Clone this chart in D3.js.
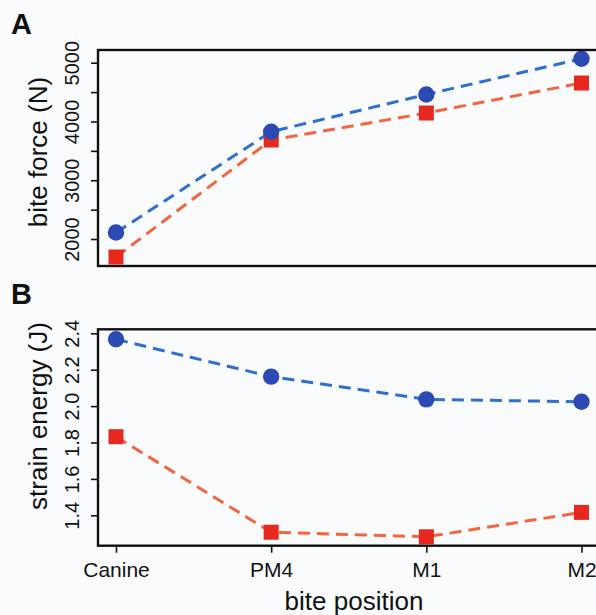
<!DOCTYPE html>
<html>
<head>
<meta charset="utf-8">
<script src="https://cdn.jsdelivr.net/npm/d3@7"></script>
<style>
  html, body { margin: 0; padding: 0; background: #fafbfd; overflow: hidden; }
  svg { display: block; font-family: "Liberation Sans", Arial, sans-serif; }
</style>
</head>
<body>
<div id="chart"></div>
<script>
// bite positions along the jaw
var categories = ["Canine", "PM4", "M1", "M2"];

// panel A: bite force (N)
var forceBlue = [2110, 3826, 4460, 5066];
var forceRed  = [1694, 3685, 4144, 4654];
var forceTicks = [2000, 2500, 3000, 3500, 4000, 4500, 5000];
var forceLabels = [2000, 3000, 4000, 5000];

// panel B: strain energy (J)
var energyBlue = [2.367, 2.162, 2.037, 2.024];
var energyRed  = [1.832, 1.307, 1.282, 1.416];
var energyTicks = [1.4, 1.6, 1.8, 2.0, 2.2, 2.4];

var width = 596, height = 615;
var blueLine = "#2f6fd0", blueMark = "#2c49b4";
var redLine = "#f2653e", redMark = "#e7281f";

var svg = d3.select("#chart").append("svg")
  .attr("width", width)
  .attr("height", height);

svg.append("rect").attr("width", width).attr("height", height).attr("fill", "#fafbfd");

var x = d3.scaleLinear().domain([0, 3]).range([116, 581.5]);
var boxLeft = 98, boxRight = x(3.116);

function drawPanel(opt){
  var y = d3.scaleLinear().domain(opt.domain).range([opt.bottom, opt.top]);
  var g = svg.append("g");

  // y axis ticks, labels rotated like R's las=0
  var axis = d3.axisLeft(y)
    .tickValues(opt.ticks)
    .tickSize(7)
    .tickFormat(function(d){ return opt.labels.indexOf(d) >= 0 ? opt.fmt(d) : ""; });
  var ax = g.append("g").attr("transform", "translate(" + boxLeft + ",0)").call(axis);
  ax.select(".domain").remove();
  ax.selectAll("line").attr("stroke", "#111").attr("stroke-width", 1.6);
  ax.selectAll("text")
    .attr("transform", "rotate(-90)")
    .attr("x", 0).attr("y", -19).attr("dy", 0)
    .attr("text-anchor", "middle")
    .attr("fill", "#111")
    .style("font-size", "20px");

  // lines then markers
  var line = d3.line().x(function(d, i){ return x(i); }).y(function(d){ return y(d); });
  g.append("path").datum(opt.red).attr("d", line)
    .attr("fill", "none").attr("stroke", redLine).attr("stroke-width", 3)
    .attr("stroke-dasharray", "12,7");
  g.append("path").datum(opt.blue).attr("d", line)
    .attr("fill", "none").attr("stroke", blueLine).attr("stroke-width", 3)
    .attr("stroke-dasharray", "12,7");

  g.selectAll("rect.sq").data(opt.red).enter().append("rect")
    .attr("class", "sq")
    .attr("x", function(d, i){ return x(i) - 7.5; })
    .attr("y", function(d){ return y(d) - 7.5; })
    .attr("width", 15).attr("height", 15)
    .attr("fill", redMark);
  g.selectAll("circle").data(opt.blue).enter().append("circle")
    .attr("cx", function(d, i){ return x(i); })
    .attr("cy", function(d){ return y(d); })
    .attr("r", 8.2)
    .attr("fill", blueMark);

  // box
  g.append("rect")
    .attr("x", boxLeft).attr("y", opt.top)
    .attr("width", boxRight - boxLeft).attr("height", opt.bottom - opt.top)
    .attr("fill", "none").attr("stroke", "#111").attr("stroke-width", 2.4);

  g.append("text")
    .attr("transform", "translate(47," + opt.titleY + ") rotate(-90)")
    .attr("text-anchor", "middle")
    .attr("fill", "#111")
    .style("font-size", "26px")
    .text(opt.title);

  g.append("text")
    .attr("x", 11).attr("y", opt.letterY)
    .attr("fill", "#111")
    .style("font-size", "29px").style("font-weight", "bold")
    .text(opt.letter);

  return y;
}

drawPanel({
  domain: [1541, 5216], top: 50, bottom: 266,
  ticks: forceTicks, labels: forceLabels, fmt: d3.format("d"),
  blue: forceBlue, red: forceRed,
  title: "bite force (N)", titleY: 152, letter: "A", letterY: 34
});

drawPanel({
  domain: [1.233, 2.422], top: 329.3, bottom: 545.7,
  ticks: energyTicks, labels: energyTicks, fmt: d3.format(".1f"),
  blue: energyBlue, red: energyRed,
  title: "strain energy (J)", titleY: 416, letter: "B", letterY: 304
});

// x axis only on bottom panel
var xAxis = d3.axisBottom(x)
  .tickValues([0, 1, 2, 3])
  .tickSize(7)
  .tickPadding(6)
  .tickFormat(function(d){ return categories[d]; });
var xg = svg.append("g").attr("transform", "translate(0,545.7)").call(xAxis);
xg.select(".domain").remove();
xg.selectAll("line").attr("stroke", "#111").attr("stroke-width", 1.6);
xg.selectAll("text").attr("fill", "#111").style("font-size", "21px")
  .attr("y", 31).attr("dy", 0);

svg.append("text")
  .attr("x", 354).attr("y", 610)
  .attr("text-anchor", "middle")
  .attr("fill", "#111")
  .style("font-size", "26px")
  .text("bite position");
</script>
</body>
</html>
